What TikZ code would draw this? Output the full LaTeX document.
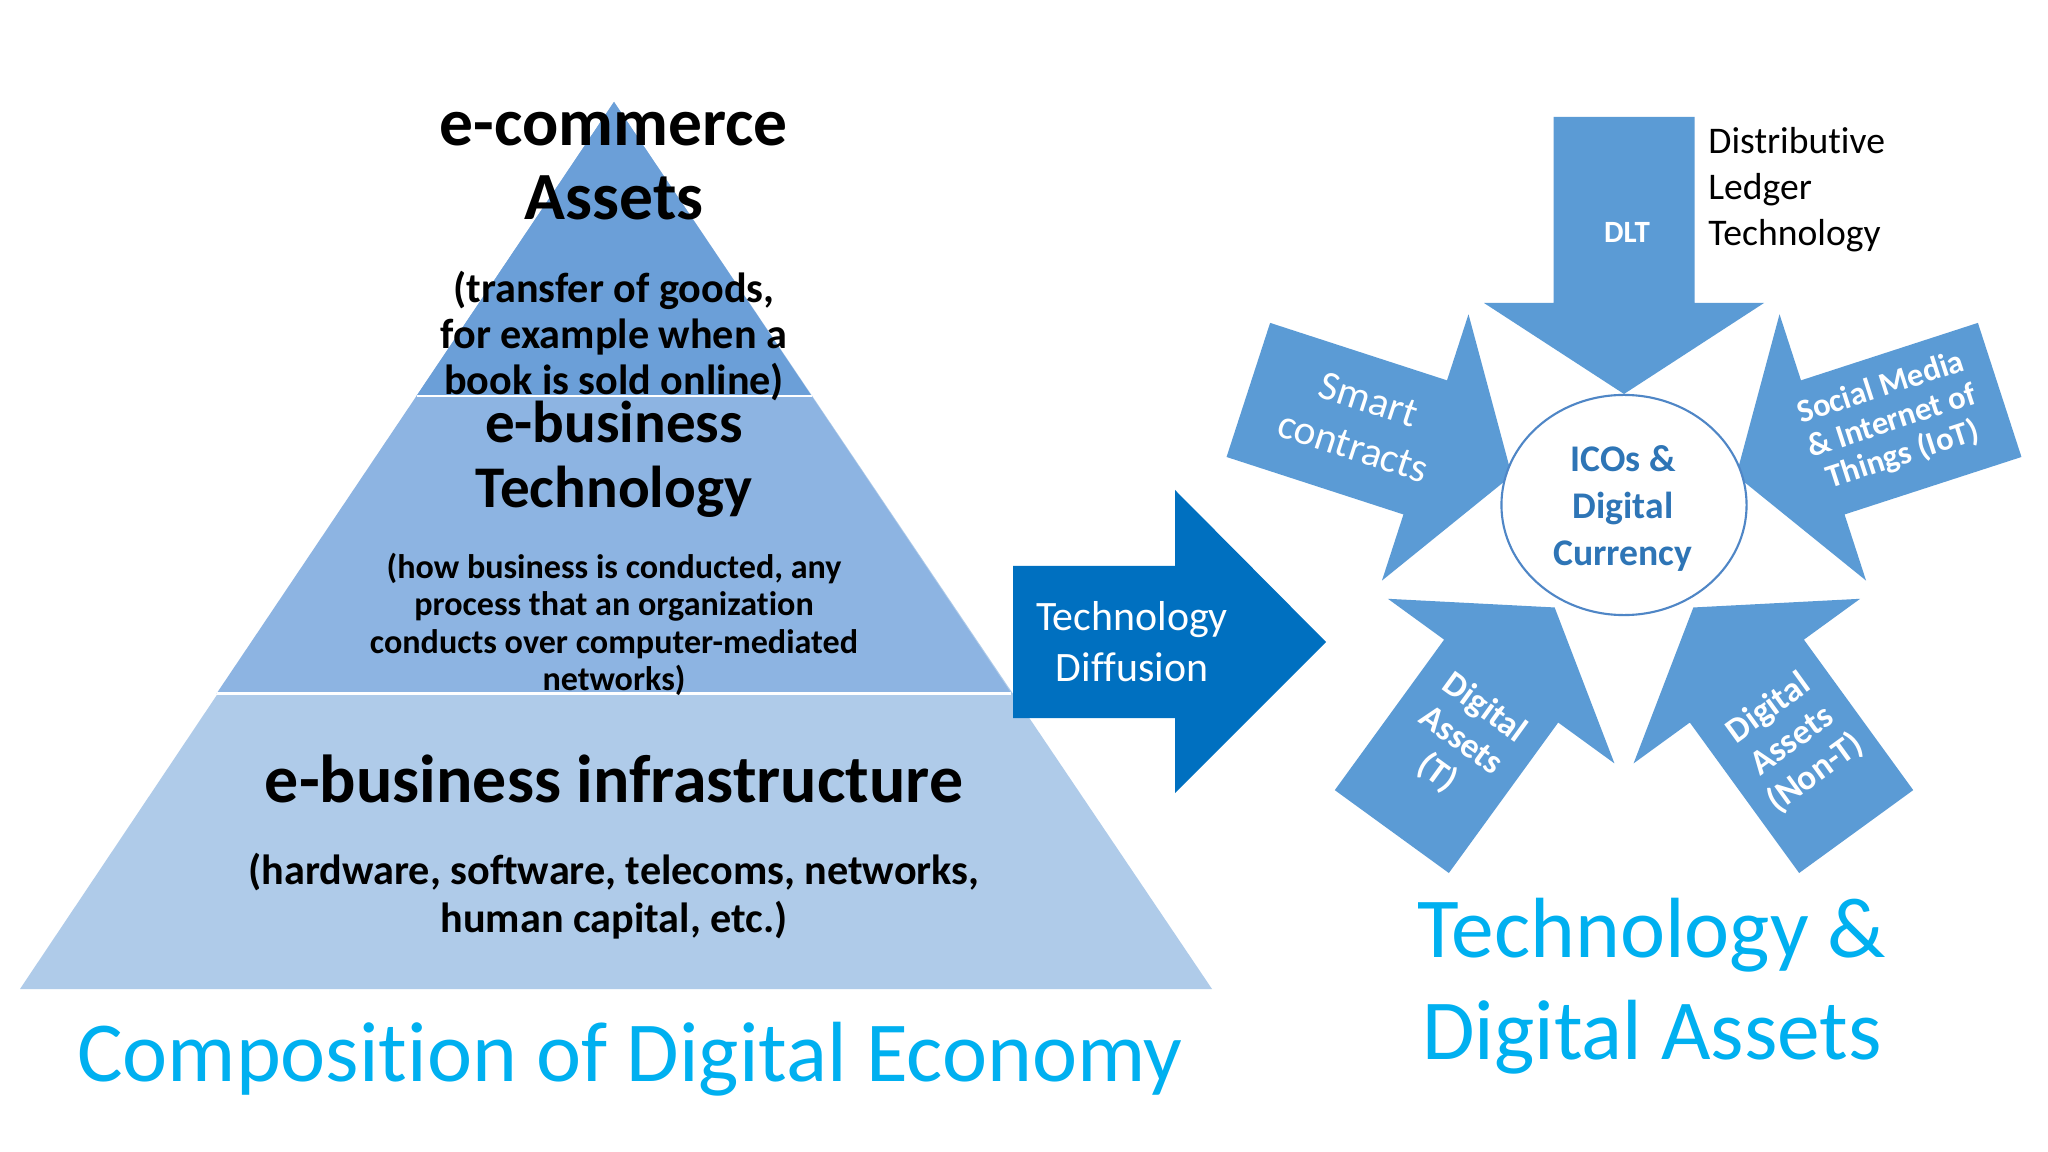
\documentclass[tikz,border=0pt]{standalone}
\usepackage{fontspec}
\setmainfont{Carlito}[Ligatures=NoCommon]

\definecolor{pyrtop}{HTML}{6B9FD8}
\definecolor{pyrmid}{HTML}{8DB4E2}
\definecolor{pyrbase}{HTML}{AFCBE9}
\definecolor{starblue}{HTML}{5B9BD5}
\definecolor{diffblue}{HTML}{0070C0}
\definecolor{skyblue}{HTML}{00B0F0}
\definecolor{icoblue}{HTML}{2E75B6}
\definecolor{ringline}{HTML}{4F86C6}

\newcommand{\setfs}[2]{\fontsize{#1}{#2}\selectfont}

\begin{document}
\begin{tikzpicture}[x=0.01cm, y=-0.01cm,
    pyrtext/.style = {align=center, anchor=base, text=black},
    startext/.style = {align=center, text=white},
    bigtitle/.style = {align=center, anchor=base, text=skyblue, font=\setfs{24.3}{29}}]

\useasboundingbox (0,0) rectangle (2048,1152);
\fill[white] (0,0) rectangle (2048,1152);

% pyramid, three layers
\fill[pyrbase] (614,102) -- (1212,989) -- (20,989) -- cycle;
\fill[pyrmid] (614,102) -- (1011.4,693.5) -- (216.6,693.5) -- cycle;
\fill[pyrtop] (614,102) -- (811.5,396) -- (416.5,396) -- cycle;
\draw[white, line width=0.7pt] (416.5,396) -- (811.5,396) (216.6,693.5) -- (1011.4,693.5);

% (base = baseline of the last line)
\node[pyrtext, font=\setfs{19.2}{21.2}\bfseries] (ecom) at (614,220) {e-commerce\\Assets};
\node[pyrtext, font=\setfs{12}{13.2}\bfseries] (ecomnote) at (614,395) {(transfer of goods,\\for example when a\\book is sold online)};
\node[pyrtext, font=\setfs{16.8}{18.5}\bfseries] (ebiz) at (614,508) {e-business\\Technology};
\node[pyrtext, font=\setfs{9.7}{10.67}\bfseries] (ebiznote) at (614,690.6) {(how business is conducted, any\\process that an organization\\conducts over computer-mediated\\networks)};
\node[pyrtext, font=\setfs{19.3}{22}\bfseries] (infra) at (614,802) {e-business infrastructure};
\node[pyrtext, font=\setfs{12}{13.4}\bfseries] (infranote) at (614,932) {(hardware, software, telecoms, networks,\\human capital, etc.)};

% diffusion arrow
\fill[diffblue] (1013,566) -- (1175,566) -- (1175,490) -- (1326,642) -- (1175,793) -- (1175,718) -- (1013,718) -- cycle;
\node[startext, anchor=base, font=\setfs{11.9}{14.65}] (diff) at (1132,682) {Technology\\Diffusion};

% ring of arrows
\begin{scope}[shift={(1624,512)}]
  \foreach \ang in {0,72,...,288}
    \fill[starblue, rotate=\ang] (-70.5,-395) -- (70.5,-395) -- (70.5,-209) -- (140,-209) -- (0,-118) -- (-140,-209) -- (-70.5,-209) -- cycle;
\end{scope}
\draw[ringline, fill=white, line width=0.6pt] (1624,505) ellipse [x radius=1.225cm, y radius=1.1cm];

\node[align=center, anchor=base, text=icoblue, font=\setfs{10.7}{13.3}\bfseries] (ico) at (1623,565) {ICOs \&\\Digital\\Currency};
\node[startext, anchor=base, font=\setfs{8.8}{10}\bfseries] (dlt) at (1627,242.6) {DLT};
\node[align=left, anchor=base west, font=\setfs{10.7}{13.1}] (dltnote) at (1696,245.5) {Distributive\\Ledger\\Technology};
\node[startext, rotate=-18, font=\setfs{11.8}{14}] (smart) at (1361,423) {Smart\\contracts};
\node[startext, rotate=18, font=\setfs{9.3}{10}\bfseries] (social) at (1892,422) {Social Media\\\& Internet of\\Things (IoT)};
\node[startext, rotate=-36, font=\setfs{10}{11.4}\bfseries] (digt) at (1461,741) {Digital\\Assets\\(T)};
\node[startext, rotate=36, font=\setfs{10}{11.4}\bfseries] (dignt) at (1792,741) {Digital\\Assets\\(Non-T)};

% captions
\node[bigtitle] (comp) at (630,1081.7) {Composition of Digital Economy};
\node[bigtitle] (techdig) at (1652,1059) {Technology \&\\Digital Assets};
\end{tikzpicture}
\end{document}
